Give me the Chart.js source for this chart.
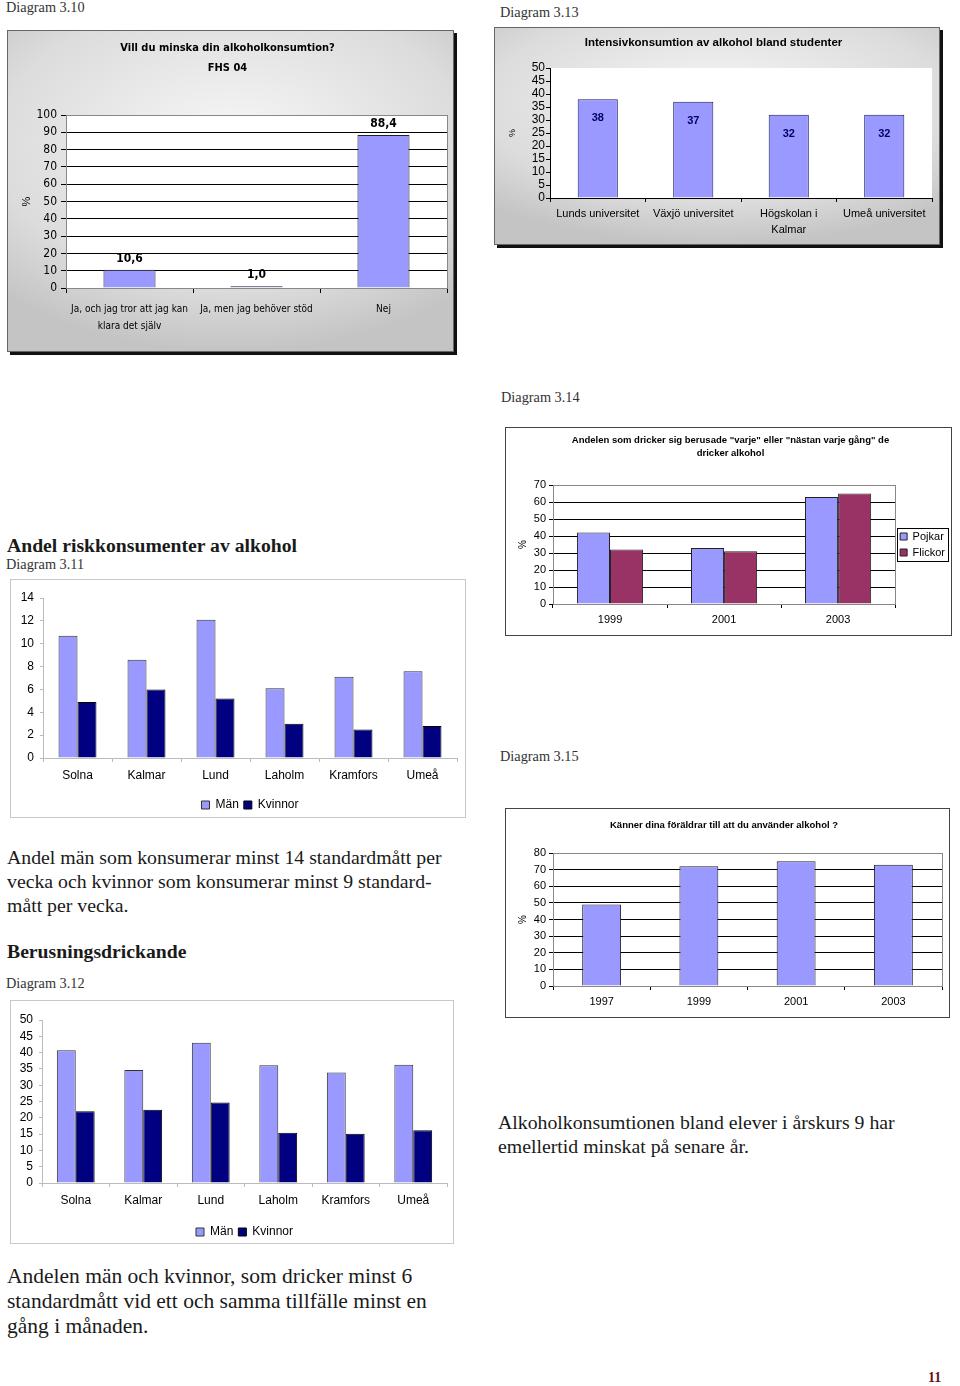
<!DOCTYPE html>
<html>
<head>
<meta charset="utf-8">
<script src="https://cdn.jsdelivr.net/npm/chart.js@4"></script>
<style>
    body { margin: 0; width: 960px; height: 1386px; position: relative; background: #fff; overflow: hidden;
           font-family: "Liberation Serif", "Times New Roman", serif; color: #1a1a1a; }
    .t { position: absolute; white-space: nowrap; }
    .cap { font-size: 14.3px; line-height: 18px; color: #333; }
    .p { font-size: 19.8px; line-height: 24px; }
    .h { font-size: 19.7px; line-height: 24px; font-weight: bold; }
    .box { position: absolute; box-sizing: border-box; }
    .box canvas { position: absolute; left: 0; top: 0; }
    .excel { border: 1px solid #666; box-shadow: 3px 3px 0 #111;
             background: radial-gradient(ellipse 75% 65% at 50% 35%, #f7f7f7, #dcdcdc 70%, #c4c4c4); }
    .dark { border: 1px solid #444; background: #fff; }
    .light { border: 1px solid #c8c8c8; background: #fff; }
</style>
</head>
<body>

<div class="t cap" style="left:6px;top:-2px">Diagram 3.10</div>
<div class="box excel" style="left:7px;top:30px;width:447px;height:322px"><canvas id="c310" width="445" height="320"></canvas></div>

<div class="t cap" style="left:500px;top:3px">Diagram 3.13</div>
<div class="box excel" style="left:494px;top:27px;width:446px;height:218px"><canvas id="c313" width="444" height="216"></canvas></div>

<div class="t cap" style="left:501px;top:388px">Diagram 3.14</div>
<div class="box dark" style="left:505px;top:427px;width:447px;height:209px"><canvas id="c314" width="449" height="207"></canvas></div>

<div class="t cap" style="left:500px;top:747px">Diagram 3.15</div>
<div class="box dark" style="left:505px;top:808px;width:445px;height:210px"><canvas id="c315" width="443" height="208"></canvas></div>

<div class="t h" style="left:7px;top:533px">Andel riskkonsumenter av alkohol</div>
<div class="t cap" style="left:6px;top:555px">Diagram 3.11</div>
<div class="box light" style="left:10px;top:579px;width:456px;height:239px"><canvas id="c311" width="454" height="241"></canvas></div>

<div class="t p" style="left:7px;top:845px">Andel män som konsumerar minst 14 standardmått per<br>vecka och kvinnor som konsumerar minst 9 standard-<br>mått per vecka.</div>
<div class="t h" style="left:7px;top:939px">Berusningsdrickande</div>
<div class="t cap" style="left:6px;top:974px">Diagram 3.12</div>
<div class="box light" style="left:10px;top:1000px;width:444px;height:244px"><canvas id="c312" width="442" height="247"></canvas></div>

<div class="t p" style="left:498px;top:1110px">Alkoholkonsumtionen bland elever i årskurs 9 har<br>emellertid minskat på senare år.</div>
<div class="t p" style="left:7px;top:1264px;line-height:25px;font-size:21.5px">Andelen män och kvinnor, som dricker minst 6<br>standardmått vid ett och samma tillfälle minst en<br>gång i månaden.</div>
<div class="t" style="left:928px;top:1369px;font-size:14px;line-height:18px;font-weight:bold;color:#6b1020">11</div>

<script>
// ================= DATA =================
// Diagram 3.10
const labels310 = [["Ja, och jag tror att jag kan", "klara det själv"], "Ja, men jag behöver stöd", "Nej"];
const values310 = [10.6, 1.0, 88.4];

// Diagram 3.13
const labels313 = ["Lunds universitet", "Växjö universitet", ["Högskolan i", "Kalmar"], "Umeå universitet"];
const values313 = [38, 37, 32, 32];

// Diagram 3.14
const years314 = ["1999", "2001", "2003"];
const pojkar314 = [42, 33, 63];
const flickor314 = [32, 31, 65];

// Diagram 3.15
const years315 = ["1997", "1999", "2001", "2003"];
const values315 = [49, 72, 75, 73];

// Diagram 3.11 / 3.12
const orter = ["Solna", "Kalmar", "Lund", "Laholm", "Kramfors", "Umeå"];
const man311 = [10.7, 8.6, 12.1, 6.1, 7.1, 7.6];
const kvinnor311 = [4.9, 6.0, 5.2, 3.0, 2.5, 2.8];
const man312 = [40.7, 34.7, 43.0, 36.1, 33.9, 36.3];
const kvinnor312 = [22.0, 22.5, 24.7, 15.4, 15.1, 16.2];

// ================= HELPERS =================
const SANS = "'Liberation Sans', Arial, sans-serif";
const NARROW = "'DejaVu Sans Condensed', 'Liberation Sans Narrow', sans-serif";

Chart.defaults.color = "#000";
Chart.defaults.font.family = SANS;

// white plot area + optional frame
const plotBg = {
    id: "plotBg",
    beforeDraw(chart, args, opts) {
        const a = chart.chartArea, ctx = chart.ctx;
        if (!opts.fill) return;
        ctx.save();
        ctx.fillStyle = opts.fill;
        ctx.fillRect(a.left, a.top, a.width, a.height);
        ctx.restore();
    },
    beforeDatasetsDraw(chart, args, opts) {
        const a = chart.chartArea, ctx = chart.ctx;
        if (!opts.stroke) return;
        ctx.save();
        ctx.strokeStyle = opts.stroke;
        ctx.lineWidth = 1;
        ctx.strokeRect(Math.round(a.left) + 0.5, Math.round(a.top) + 0.5, Math.round(a.width), Math.round(a.height));
        ctx.restore();
    }
};

// value labels on bars of the first dataset
const barValues = {
    id: "barValues",
    afterDatasetsDraw(chart, args, opts) {
        if (!opts.show) return;
        const ctx = chart.ctx;
        const data = chart.data.datasets[0].data;
        ctx.save();
        ctx.font = opts.font;
        ctx.fillStyle = opts.color;
        ctx.textAlign = "center";
        ctx.textBaseline = "middle";
        chart.getDatasetMeta(0).data.forEach((bar, i) => {
            ctx.fillText(opts.format(data[i]), bar.x, bar.y + opts.offset);
        });
        ctx.restore();
    }
};

// frame round the legend (Excel style)
const legendFrame = {
    id: "legendFrame",
    afterDraw(chart, args, opts) {
        if (!opts.show || !chart.legend) return;
        const hb = chart.legend.legendHitBoxes;
        const l = Math.min(...hb.map(b => b.left)) - 3;
        const t = Math.min(...hb.map(b => b.top)) - 3;
        const r = Math.max(...hb.map(b => b.left + b.width)) + 3;
        const b = Math.max(...hb.map(b => b.top + b.height)) + 3;
        const ctx = chart.ctx;
        ctx.save();
        ctx.strokeStyle = "#000";
        ctx.lineWidth = 1;
        ctx.strokeRect(Math.round(l) + 0.5, Math.round(t) + 0.5, Math.round(r - l), Math.round(b - t));
        ctx.restore();
    }
};

Chart.register(plotBg, barValues, legendFrame);

const noTip = { enabled: false };

// ================= 3.10 =================
new Chart(document.getElementById("c310"), {
    type: "bar",
    data: {
        labels: labels310,
        datasets: [{ data: values310, backgroundColor: "#9999ff", borderColor: "#222", borderWidth: 1,
                     barPercentage: 0.41, categoryPercentage: 1 }]
    },
    options: {
        responsive: false, animation: false,
        layout: { padding: { left: 0, right: 6, top: 0, bottom: 0 } },
        plugins: {
            legend: { display: false }, tooltip: noTip,
            title: { display: true, text: ["Vill du minska din alkoholkonsumtion?", "FHS 04"], color: "#000",
                     font: { family: NARROW, size: 11, weight: "bold", lineHeight: 20 / 11 },
                     padding: { top: 7, bottom: 37 } },
            plotBg: { fill: "#fff", stroke: "#888" },
            barValues: { show: true, font: "bold 12px " + NARROW, color: "#000", offset: -11,
                         format: v => v.toFixed(1).replace(".", ",") }
        },
        scales: {
            x: {
                grid: { offset: true, drawOnChartArea: false, tickLength: 5, color: "#000" },
                border: { color: "#000" },
                ticks: { font: { family: NARROW, size: 10, lineHeight: 1.7 }, padding: 8, maxRotation: 0, minRotation: 0, autoSkip: false },
                afterFit: s => { s.height = 63; }
            },
            y: {
                min: 0, max: 100,
                ticks: { stepSize: 10, font: { family: NARROW, size: 12 }, padding: 4, autoSkip: false },
                grid: { color: "#000", tickLength: 5 },
                border: { color: "#000" },
                title: { display: true, text: "%", font: { size: 11 }, padding: { top: 12, bottom: 0 } },
                afterFit: s => { s.width = 58; }
            }
        }
    }
});

// ================= 3.13 =================
new Chart(document.getElementById("c313"), {
    type: "bar",
    data: {
        labels: labels313,
        datasets: [{ data: values313, backgroundColor: "#9999ff", borderColor: "#1a1a66", borderWidth: 1,
                     barPercentage: 0.42, categoryPercentage: 1 }]
    },
    options: {
        responsive: false, animation: false,
        layout: { padding: { left: 0, right: 7, top: 0, bottom: 0 } },
        plugins: {
            legend: { display: false }, tooltip: noTip,
            title: { display: true, text: "Intensivkonsumtion av alkohol bland studenter", color: "#000",
                     font: { size: 11.5, weight: "bold", lineHeight: 14 / 11.5 },
                     padding: { top: 8, bottom: 18 } },
            plotBg: { fill: "#fff" },
            barValues: { show: true, font: "bold 11px " + SANS, color: "#000066", offset: 19, format: v => String(v) }
        },
        scales: {
            x: {
                grid: { offset: true, drawOnChartArea: false, tickLength: 4, color: "#000" },
                border: { color: "#000" },
                ticks: { font: { size: 11, lineHeight: 16 / 11 }, padding: 4, maxRotation: 0, minRotation: 0, autoSkip: false },
                afterFit: s => { s.height = 46; }
            },
            y: {
                min: 0, max: 50,
                ticks: { stepSize: 5, font: { size: 12 }, padding: 1, autoSkip: false },
                grid: { drawOnChartArea: false, tickLength: 4, color: "#000" },
                border: { color: "#000" },
                title: { display: true, text: "%", font: { size: 9 }, padding: { top: 12, bottom: 0 } },
                afterFit: s => { s.width = 55; }
            }
        }
    }
});

// ================= 3.14 =================
new Chart(document.getElementById("c314"), {
    type: "bar",
    data: {
        labels: years314,
        datasets: [
            { label: "Pojkar", data: pojkar314, backgroundColor: "#9999ff", borderColor: "#222", borderWidth: 1,
              categoryPercentage: 0.58, barPercentage: 1 },
            { label: "Flickor", data: flickor314, backgroundColor: "#993366", borderColor: "#222", borderWidth: 1,
              categoryPercentage: 0.58, barPercentage: 1 }
        ]
    },
    options: {
        responsive: false, animation: false,
        layout: { padding: { left: 0, right: 0, top: 0, bottom: 0 } },
        plugins: {
            tooltip: noTip,
            title: { display: true, color: "#000",
                     text: ['Andelen som dricker sig berusade "varje" eller "nästan varje gång" de', "dricker alkohol"],
                     font: { size: 9.5, weight: "bold", lineHeight: 13 / 9.5 },
                     padding: { top: 5.5, bottom: 25.5 } },
            legend: { position: "right", fullSize: false,
                      labels: { boxWidth: 7, boxHeight: 7, padding: 5, font: { size: 11 }, color: "#000" } },
            legendFrame: { show: true },
            plotBg: { fill: "#fff", stroke: "#888" }
        },
        scales: {
            x: {
                grid: { offset: true, drawOnChartArea: false, tickLength: 4, color: "#000" },
                border: { color: "#000" },
                ticks: { font: { size: 11 }, padding: 5, maxRotation: 0 },
                afterFit: s => { s.height = 31; }
            },
            y: {
                min: 0, max: 70,
                ticks: { stepSize: 10, font: { size: 11 }, padding: 3, autoSkip: false },
                grid: { color: "#000", tickLength: 4 },
                border: { color: "#000" },
                title: { display: true, text: "%", font: { size: 10 }, padding: { top: 11, bottom: 0 } },
                afterFit: s => { s.width = 47; }
            }
        }
    }
});

// ================= 3.15 =================
new Chart(document.getElementById("c315"), {
    type: "bar",
    data: {
        labels: years315,
        datasets: [{ data: values315, backgroundColor: "#9999ff", borderColor: "#222", borderWidth: 1,
                     barPercentage: 0.4, categoryPercentage: 1 }]
    },
    options: {
        responsive: false, animation: false,
        layout: { padding: { left: 0, right: 7, top: 0, bottom: 0 } },
        plugins: {
            legend: { display: false }, tooltip: noTip,
            title: { display: true, color: "#000", text: "Känner dina föräldrar till att du använder alkohol ?",
                     font: { size: 9.5, weight: "bold", lineHeight: 13 / 9.5 },
                     padding: { top: 9.5, bottom: 21.5 } },
            plotBg: { fill: "#fff", stroke: "#888" }
        },
        scales: {
            x: {
                grid: { offset: true, drawOnChartArea: false, tickLength: 4, color: "#000" },
                border: { color: "#000" },
                ticks: { font: { size: 11 }, padding: 5, maxRotation: 0 },
                afterFit: s => { s.height = 31; }
            },
            y: {
                min: 0, max: 80,
                ticks: { stepSize: 10, font: { size: 11 }, padding: 3, autoSkip: false },
                grid: { color: "#000", tickLength: 4 },
                border: { color: "#000" },
                title: { display: true, text: "%", font: { size: 10 }, padding: { top: 11, bottom: 0 } },
                afterFit: s => { s.width = 47; }
            }
        }
    }
});

// ================= 3.11 / 3.12 =================
function genderChart(id, man, kvinnor, yMax, yStep, catPct, pad, xHeight, yWidth) {
    return new Chart(document.getElementById(id), {
        type: "bar",
        data: {
            labels: orter,
            datasets: [
                { label: "Män", data: man, backgroundColor: "#9999ff", borderColor: "#333", borderWidth: 1,
                  categoryPercentage: catPct, barPercentage: 1 },
                { label: "Kvinnor", data: kvinnor, backgroundColor: "#000080", borderColor: "#000", borderWidth: 1,
                  categoryPercentage: catPct, barPercentage: 1 }
            ]
        },
        options: {
            responsive: false, animation: false,
            layout: { padding: pad },
            plugins: {
                tooltip: noTip,
                legend: { position: "bottom", fullSize: false,
                          labels: { boxWidth: 8, boxHeight: 8, padding: 5, font: { size: 12 }, color: "#000" } }
            },
            scales: {
                x: {
                    grid: { offset: true, drawOnChartArea: false, tickLength: 4, color: "#bbb" },
                    border: { color: "#bbb" },
                    ticks: { font: { size: 12 }, padding: 6, maxRotation: 0 },
                    afterFit: s => { s.height = xHeight; }
                },
                y: {
                    min: 0, max: yMax,
                    ticks: { stepSize: yStep, font: { size: 12 }, padding: 6, autoSkip: false },
                    grid: { drawOnChartArea: false, tickLength: 3, color: "#bbb" },
                    border: { color: "#bbb" },
                    afterFit: s => { s.width = yWidth; }
                }
            }
        }
    });
}

genderChart("c311", man311, kvinnor311, 14, 2, 0.55, { left: 0, right: 8, top: 18, bottom: 0 }, 36, 32);
genderChart("c312", man312, kvinnor312, 50, 5, 0.56, { left: 0, right: 6, top: 19, bottom: 0 }, 38, 31);
</script>
</body>
</html>
